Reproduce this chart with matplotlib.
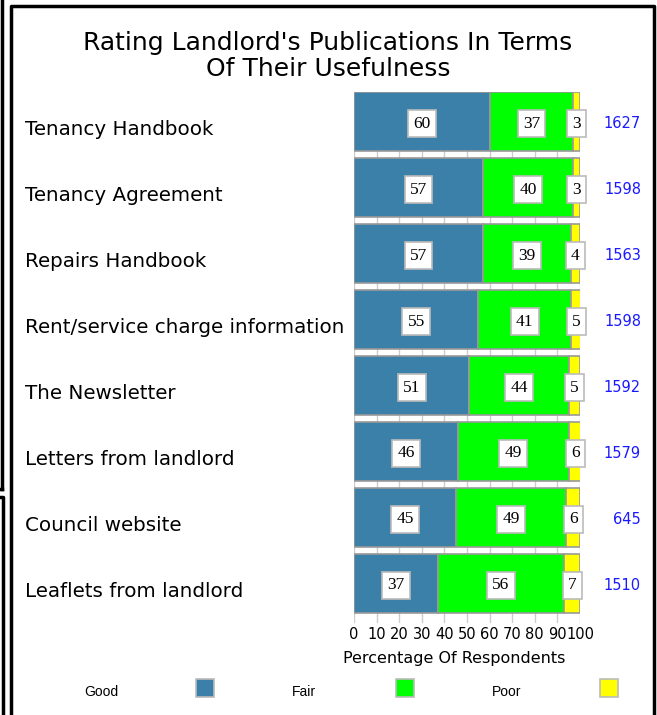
import numpy as np
import matplotlib.pyplot as plt
from matplotlib.patches import Rectangle
from matplotlib.lines import Line2D
from matplotlib.transforms import blended_transform_factory

categories = ['Tenancy Handbook', 'Tenancy Agreement', 'Repairs Handbook',
              'Rent/service charge information', 'The Newsletter',
              'Letters from landlord', 'Council website', 'Leaflets from landlord']
good = [60, 57, 57, 55, 51, 46, 45, 37]
fair = [37, 40, 39, 41, 44, 49, 49, 56]
poor = [3, 3, 4, 5, 5, 6, 6, 7]
counts = [1627, 1598, 1563, 1598, 1592, 1579, 645, 1510]
series_names = ['Good', 'Fair', 'Poor']
colors = ['#3A80A8', '#00FF00', '#FFFF00']

W, H = 657, 715
fig = plt.figure(figsize=(W / 100, H / 100), dpi=100)
ax = fig.add_axes([354 / W, 1 - 623 / H, 226 / W, (623 - 92) / H])

y = np.arange(len(categories))
left = np.zeros(len(categories))
for vals, col in zip([good, fair, poor], colors):
    vals = np.array(vals, dtype=float)
    ax.barh(y, vals, left=left, height=0.9, color=col, edgecolor='#999999',
            linewidth=1.2, zorder=2)
    for yi, l, v in zip(y, left, vals):
        ax.text(l + v / 2, yi + 0.03, f'{int(v)}', ha='center', va='center',
                fontsize=12.5, family='Liberation Serif', zorder=4,
                bbox=dict(boxstyle='square,pad=0.3', fc='white', ec='#BBBBBB', lw=1.2))
    left += vals

ax.set_xlim(0, 100)
ax.set_ylim(7.6, -0.45)
ax.set_xticks(np.arange(0, 101, 10))
ax.tick_params(axis='x', length=0, labelsize=10.5, pad=3)
ax.set_yticks([])
ax.grid(axis='x', color='#CCCCCC', lw=1, zorder=0)
for s in ax.spines.values():
    s.set_visible(False)
ax.set_xlabel('Percentage Of Respondents', fontsize=11.5)
ax.xaxis.set_label_coords((454 - 354) / 226, -(659 - 623) / (623 - 92))
ax.xaxis.label.set_va('center')

tr = blended_transform_factory(fig.transFigure, ax.transData)
for yi, cat, n in zip(y, categories, counts):
    ax.text(25 / W, yi + 0.12, cat, transform=tr, ha='left', va='center', fontsize=14.3)
    ax.text(641 / W, yi + 0.03, str(n), transform=tr, ha='right', va='center',
            fontsize=10.5, color='#1A1AFF')

fig.text(328 / W, 1 - 56 / H, "Rating Landlord's Publications In Terms\nOf Their Usefulness",
         ha='center', va='center', fontsize=18, linespacing=1.1)

# legend
leg_text_x = [101, 304, 507]
leg_box_x = [196, 396, 600]
for name, tx, bx, col in zip(series_names, leg_text_x, leg_box_x, colors):
    fig.text(tx / W, 1 - 692 / H, name, ha='center', va='center', fontsize=10,
             family='Liberation Sans')
    fig.patches.append(Rectangle((bx / W, 1 - 697 / H), 18 / W, 18 / H, fc=col,
                                 ec='#BBBBBB', lw=1.2, transform=fig.transFigure))

# frames
lk = dict(color='black', lw=2.5, transform=fig.transFigure)
fig.lines.append(Line2D([11 / W, 11 / W, 654 / W, 654 / W],
                        [0, 1 - 6 / H, 1 - 6 / H, 0], **lk))
fig.lines.append(Line2D([2 / W, 2 / W], [1, 1 - 489 / H], **lk))
fig.lines.append(Line2D([0, 2 / W], [1 - 489 / H, 1 - 489 / H], **lk))
fig.lines.append(Line2D([0, 3 / W, 3 / W], [1 - 497 / H, 1 - 497 / H, 0], **lk))

fig.savefig('out.png', dpi=100)
